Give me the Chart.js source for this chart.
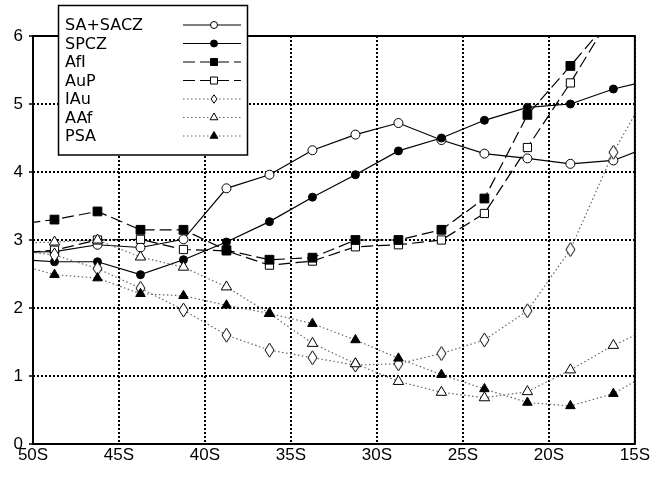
<!DOCTYPE html>
<html>
<head>
<meta charset="utf-8">
<script src="https://cdn.jsdelivr.net/npm/chart.js@4.4.1/dist/chart.umd.min.js"></script>
<style>
  html, body { margin: 0; padding: 0; background: #fff; }
  #wrap { position: relative; width: 651px; height: 478px; }
</style>
</head>
<body>
<div id="wrap"><canvas id="myChart"></canvas></div>
<script>
// latitude bin centres (negative = south); first and last fall outside the axis and get clipped
const lats = [-51.25, -48.75, -46.25, -43.75, -41.25, -38.75, -36.25, -33.75,
              -31.25, -28.75, -26.25, -23.75, -21.25, -18.75, -16.25, -13.75];

const saSacz = [2.82, 2.83, 2.93, 2.89, 3.01, 3.76, 3.96, 4.32, 4.55, 4.72, 4.47, 4.27, 4.20, 4.12, 4.17, 4.41];
const spcz   = [2.72, 2.68, 2.68, 2.49, 2.71, 2.97, 3.27, 3.63, 3.96, 4.31, 4.50, 4.76, 4.95, 5.00, 5.22, 5.37];
const afi    = [3.22, 3.30, 3.42, 3.15, 3.15, 2.85, 2.71, 2.74, 3.00, 3.00, 3.15, 3.61, 4.84, 5.56, 6.30, 7.00];
const aup    = [2.80, 2.85, 3.00, 3.01, 2.86, 2.84, 2.63, 2.69, 2.90, 2.93, 3.00, 3.39, 4.36, 5.31, 6.35, 7.20];
const iau    = [2.85, 2.78, 2.58, 2.29, 1.97, 1.60, 1.38, 1.27, 1.16, 1.18, 1.33, 1.53, 1.96, 2.86, 4.29, 5.40];
const aaf    = [2.95, 2.97, 3.00, 2.75, 2.60, 2.31, 1.92, 1.48, 1.18, 0.92, 0.76, 0.68, 0.77, 1.09, 1.45, 1.75];
const psa    = [2.67, 2.49, 2.44, 2.21, 2.18, 2.04, 1.92, 1.77, 1.53, 1.26, 1.02, 0.81, 0.61, 0.56, 0.74, 1.10];

const xTicks = [-50, -45, -40, -35, -30, -25, -20, -15];
const yTicks = [0, 1, 2, 3, 4, 5, 6];

// tall diamond marker as a small canvas
function diamond(w, h) {
  const c = document.createElement('canvas');
  c.width = w + 2; c.height = h + 2;
  const g = c.getContext('2d');
  g.beginPath();
  g.moveTo(c.width / 2, 1);
  g.lineTo(c.width - 1, c.height / 2);
  g.lineTo(c.width / 2, c.height - 1);
  g.lineTo(1, c.height / 2);
  g.closePath();
  g.fillStyle = '#fff';
  g.fill();
  g.lineWidth = 1;
  g.strokeStyle = '#000';
  g.stroke();
  return c;
}

const SOLID = [], DASH = [12, 5], DOT = [1.5, 2.5];

const series = [
  { label: 'SA+SACZ', values: saSacz, marker: 'circle',   r: 4.5, filled: false, dash: SOLID, color: '#000', order: 7 },
  { label: 'SPCZ',    values: spcz,   marker: 'circle',   r: 4,   filled: true,  dash: SOLID, color: '#000', order: 6 },
  { label: 'AfI',     values: afi,    marker: 'rect',     r: 6.2, filled: true,  dash: DASH,  color: '#000', order: 4 },
  { label: 'AuP',     values: aup,    marker: 'rect',     r: 5.8, filled: false, dash: DASH,  color: '#000', order: 5 },
  { label: 'IAu',     values: iau,    marker: 'diamond',  r: 6,   filled: false, dash: DOT,   color: '#666', order: 3 },
  { label: 'AAf',     values: aaf,    marker: 'triangle', r: 6,   filled: false, dash: DOT,   color: '#666', order: 2 },
  { label: 'PSA',     values: psa,    marker: 'triangle', r: 5.5, filled: true,  dash: DOT,   color: '#666', order: 1 }
];

const bigDiamond = diamond(9, 14);

const datasets = series.map(s => ({
  label: s.label,
  data: lats.map((x, i) => ({ x: x, y: s.values[i] })),
  borderColor: s.color,
  borderWidth: 1.2,
  borderDash: s.dash,
  fill: false,
  tension: 0,
  clip: 0,
  order: s.order,
  pointStyle: s.marker === 'diamond' ? bigDiamond : s.marker,
  pointRadius: s.r,
  pointBorderWidth: 1,
  pointBorderColor: '#000',
  pointBackgroundColor: s.filled ? '#000' : '#fff'
}));

function drawMarker(ctx, s, x, y, r) {
  ctx.save();
  ctx.setLineDash([]);
  ctx.lineWidth = 1;
  ctx.strokeStyle = '#000';
  ctx.fillStyle = s.filled ? '#000' : '#fff';
  ctx.beginPath();
  if (s.marker === 'circle') {
    ctx.arc(x, y, r, 0, Math.PI * 2);
  } else if (s.marker === 'rect') {
    ctx.rect(x - r, y - r, 2 * r, 2 * r);
  } else if (s.marker === 'triangle') {
    ctx.moveTo(x, y - r);
    ctx.lineTo(x + r * 0.87, y + r * 0.5);
    ctx.lineTo(x - r * 0.87, y + r * 0.5);
    ctx.closePath();
  } else {
    ctx.moveTo(x, y - r * 1.4);
    ctx.lineTo(x + r, y);
    ctx.lineTo(x, y + r * 1.4);
    ctx.lineTo(x - r, y);
    ctx.closePath();
  }
  ctx.fill();
  ctx.stroke();
  ctx.restore();
}

const frameAndKey = {
  id: 'frameAndKey',
  afterDraw(chart) {
    const ctx = chart.ctx;
    const a = chart.chartArea;
    ctx.save();
    ctx.lineWidth = 2;
    ctx.strokeStyle = '#000';
    ctx.setLineDash([]);
    ctx.strokeRect(a.left, a.top, a.right - a.left, a.bottom - a.top);

    // key box
    const bx = 58.5, by = 5.5, bw = 189, bh = 149.5;
    ctx.fillStyle = '#fff';
    ctx.fillRect(bx, by, bw, bh);
    ctx.lineWidth = 1.5;
    ctx.strokeRect(bx, by, bw, bh);

    ctx.font = '16px "DejaVu Sans"';
    ctx.textBaseline = 'middle';
    ctx.textAlign = 'left';
    series.forEach((s, i) => {
      const y = 25 + i * 18.5;
      ctx.fillStyle = '#000';
      ctx.fillText(s.label, 65, y + 1);
      ctx.beginPath();
      ctx.lineWidth = 1.2;
      ctx.strokeStyle = s.color;
      ctx.setLineDash(s.dash);
      ctx.moveTo(183, y);
      ctx.lineTo(241, y);
      ctx.stroke();
      const small = s.marker === 'circle' ? 3.5 : s.marker === 'rect' ? 3.5 : s.marker === 'triangle' ? 4.5 : 3;
      drawMarker(ctx, s, 214, y, small);
    });
    ctx.restore();
  }
};

const axisFont = { family: '"Liberation Sans", Arial, sans-serif', size: 17 };

new Chart(document.getElementById('myChart').getContext('2d'), {
  type: 'line',
  data: { datasets: datasets },
  options: {
    responsive: true,
    maintainAspectRatio: false,
    animation: false,
    layout: { padding: { top: 36, right: 16, bottom: 0, left: 0 } },
    plugins: {
      legend: { display: false },
      tooltip: { enabled: false }
    },
    scales: {
      x: {
        type: 'linear',
        min: -50,
        max: -15,
        afterFit: axis => { axis.height = 34; },
        afterBuildTicks: axis => { axis.ticks = xTicks.map(v => ({ value: v })); },
        ticks: {
          color: '#000',
          font: axisFont,
          padding: 1,
          maxRotation: 0,
          autoSkip: false,
          callback: v => (-v) + 'S'
        },
        grid: { color: '#000', lineWidth: 2, drawTicks: false },
        border: { display: false, dash: [2, 2] }
      },
      y: {
        min: 0,
        max: 6,
        afterFit: axis => { axis.width = 33; },
        afterBuildTicks: axis => { axis.ticks = yTicks.map(v => ({ value: v })); },
        ticks: { color: '#000', font: axisFont, padding: 6 },
        grid: { color: '#000', lineWidth: 2, tickLength: 4, tickWidth: 1.5 },
        border: { display: false, dash: [2, 2] }
      }
    }
  },
  plugins: [frameAndKey]
});
</script>
</body>
</html>
